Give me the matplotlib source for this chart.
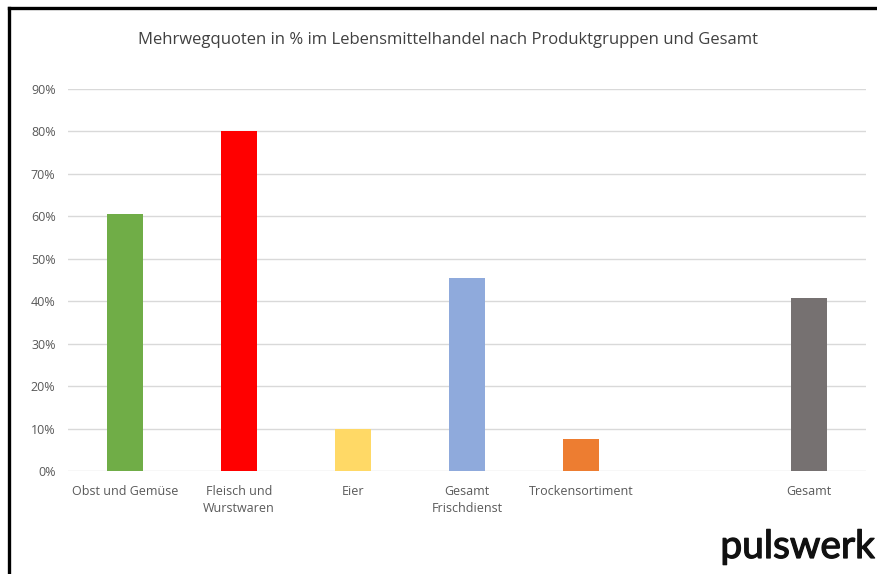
import numpy as np
import matplotlib.pyplot as plt
import matplotlib.patheffects as pe
from matplotlib.lines import Line2D
from matplotlib.ticker import PercentFormatter

# Daten
kategorien = ["Obst und Gemüse", "Fleisch und\nWurstwaren", "Eier", "Gesamt\nFrischdienst",
              "Trockensortiment", "", "Gesamt"]
quoten = [0.605, 0.80, 0.10, 0.455, 0.075, np.nan, 0.408]
farben = ["#70ad47", "#ff0000", "#ffd966", "#8faadc", "#ed7d31", "#ffffff", "#767171"]
titel = "Mehrwegquoten in % im Lebensmittelhandel nach Produktgruppen und Gesamt"

plt.rcParams['font.family'] = ['Open Sans', 'DejaVu Sans']

fig = plt.figure(figsize=(8.78, 5.74), dpi=100)
ax = fig.add_axes([68/878, 1 - 471/574, 798/878, (471 - 89)/574])

x = np.arange(len(kategorien))
ax.bar(x, quoten, width=0.315, color=farben, zorder=3)

ax.set_xlim(-0.5, len(kategorien) - 0.5)
ax.set_ylim(0, 0.9)
ax.set_yticks(np.arange(0, 0.91, 0.1))
ax.yaxis.set_major_formatter(PercentFormatter(1.0, decimals=0))
ax.set_xticks(x)
ax.set_xticklabels(kategorien, fontsize=9, color="#595959", linespacing=1.45)
ax.tick_params(axis='y', labelsize=9, labelcolor="#595959", length=0, pad=9)
ax.tick_params(axis='x', length=0, pad=10)
ax.grid(axis='y', color="#d9d9d9", lw=1, zorder=0)
for s in ax.spines.values():
    s.set_visible(False)

fig.text(448/878, 1 - 40/574, titel, ha='center', va='center', fontsize=12, color="#404040")

# Logo
fig.text(875/878, 1 - 547/574, "pulswerk", ha='right', va='center', fontsize=28,
         family=['Lato', 'DejaVu Sans'], color="#111111",
         path_effects=[pe.withStroke(linewidth=0.9, foreground="#111111")])

# Rahmen links und oben
fig.add_artist(Line2D([8.5/878, 8.5/878], [0, 1 - 7.5/574], color='black', lw=2.4,
                      transform=fig.transFigure))
fig.add_artist(Line2D([8.5/878, 1], [1 - 7.5/574, 1 - 7.5/574], color='black', lw=2.4,
                      transform=fig.transFigure))

fig.savefig("out.png", dpi=100)
